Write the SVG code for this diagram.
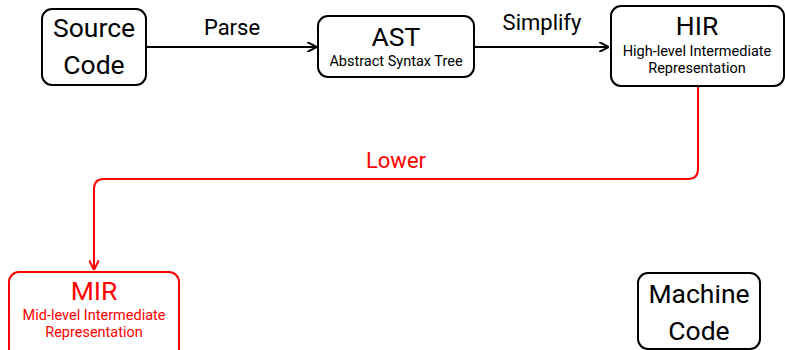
<svg xmlns="http://www.w3.org/2000/svg" width="785" height="350" viewBox="0 0 785 350">
  <defs>
    <marker id="arrow-black" viewBox="0 0 10 10" refX="10" refY="5" markerWidth="10" markerHeight="10" markerUnits="userSpaceOnUse" orient="auto">
      <path d="M0,0 L10,5 L0,10" fill="none" stroke="#000" stroke-width="2"/>
    </marker>
    <marker id="arrow-red" viewBox="0 0 10 10" refX="10" refY="5" markerWidth="10" markerHeight="10" markerUnits="userSpaceOnUse" orient="auto">
      <path d="M0,0 L10,5 L0,10" fill="none" stroke="#ff0000" stroke-width="2"/>
    </marker>
    <style>
      text { font-family: "Roboto", "Noto Sans", sans-serif; text-anchor: middle; fill: #000; }
      .box { fill: #fff; stroke: #000; stroke-width: 2; }
      .box.red { stroke: #ff0000; }
      .title { font-size: 26.5px; }
      .sub { font-size: 14.5px; }
      .edge { fill: none; stroke: #000; stroke-width: 2; }
      .edge.red { stroke: #ff0000; }
      .label { font-size: 22px; }
      text.red-text { fill: #ff0000; }
    </style>
  </defs>

  <g id="connectors">
    <path class="edge" d="M146,47 H317" marker-end="url(#arrow-black)"/>
    <text class="label" x="232" y="35">Parse</text>
    <path class="edge" d="M474,47 H609" marker-end="url(#arrow-black)"/>
    <text class="label" x="542" y="30">Simplify</text>
    <path class="edge red" d="M698,86 V169 Q698,179 688,179 H104 Q94,179 94,189 V270" marker-end="url(#arrow-red)"/>
    <text class="label red-text" x="396" y="168">Lower</text>
  </g>

  <g id="source-code">
    <rect class="box" x="42" y="9" width="104" height="76" rx="10"/>
    <text class="title" x="94" y="37">Source</text>
    <text class="title" x="94" y="74">Code</text>
  </g>

  <g id="ast">
    <rect class="box" x="318" y="16" width="156" height="61" rx="10"/>
    <text class="title" x="396" y="46">AST</text>
    <text class="sub" x="396" y="66">Abstract Syntax Tree</text>
  </g>

  <g id="hir">
    <rect class="box" x="611" y="6" width="173" height="80" rx="10"/>
    <text class="title" x="697" y="35">HIR</text>
    <text class="sub" x="697" y="56">High-level Intermediate</text>
    <text class="sub" x="697" y="73">Representation</text>
  </g>

  <g id="mir">
    <rect class="box red" x="9" y="272" width="170" height="90" rx="10"/>
    <text class="title red-text" x="94" y="300">MIR</text>
    <text class="sub red-text" x="94" y="320">Mid-level Intermediate</text>
    <text class="sub red-text" x="94" y="337">Representation</text>
  </g>

  <g id="machine-code">
    <rect class="box" x="638" y="273" width="122" height="76" rx="10"/>
    <text class="title" x="699" y="303">Machine</text>
    <text class="title" x="699" y="340">Code</text>
  </g>
</svg>
